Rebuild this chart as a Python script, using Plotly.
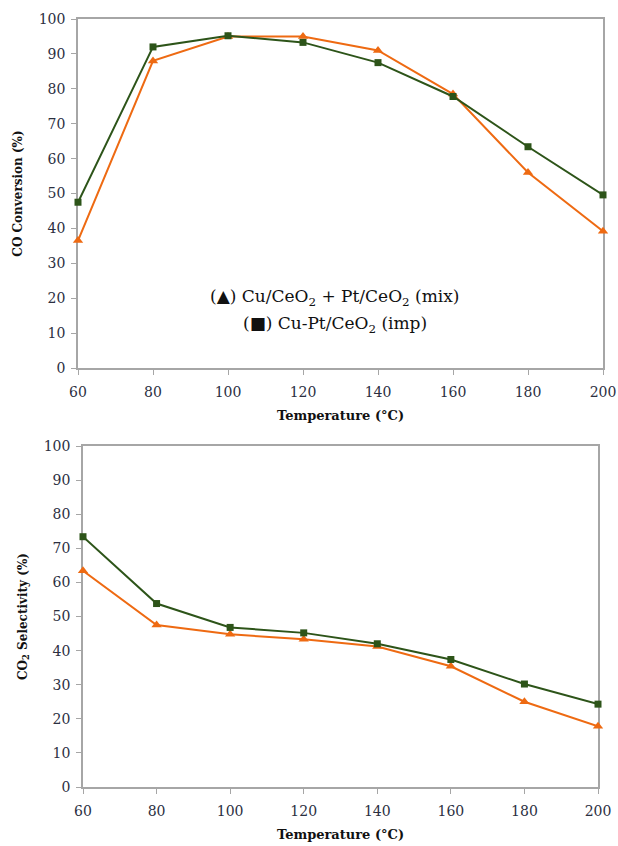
import plotly.graph_objects as go

temps = [60, 80, 100, 120, 140, 160, 180, 200]
conv_mix = [36.5, 88.0, 95.0, 95.0, 91.0, 78.5, 56.0, 39.2]
conv_imp = [47.5, 92.0, 95.2, 93.3, 87.5, 77.8, 63.4, 49.6]
sel_mix = [63.4, 47.5, 44.8, 43.3, 41.2, 35.4, 25.0, 17.8]
sel_imp = [73.4, 53.8, 46.8, 45.2, 42.0, 37.4, 30.2, 24.3]
y_ticks = [0, 10, 20, 30, 40, 50, 60, 70, 80, 90, 100]
x_ticks = [60, 80, 100, 120, 140, 160, 180, 200]

ORANGE = "#EE6A12"
GREEN = "#2D5419"
AXIS = "#A6A6A6"
TICKFONT = dict(family="DejaVu Serif", size=14, color="#2b2f3f")
XTITLEFONT = dict(family="DejaVu Serif", size=13, color="#111111")
YTITLEFONT = dict(family="DejaVu Serif", size=12, color="#111111")

W, H = 618, 846
fig = go.Figure()

def add_pair(xa, ya, mix, imp):
    fig.add_trace(go.Scatter(x=temps, y=mix, mode="lines+markers", xaxis=xa, yaxis=ya,
                             line=dict(color=ORANGE, width=2), cliponaxis=False,
                             marker=dict(symbol="triangle-up", size=9, color=ORANGE),
                             showlegend=False, hoverinfo="skip"))
    fig.add_trace(go.Scatter(x=temps, y=imp, mode="lines+markers", xaxis=xa, yaxis=ya,
                             line=dict(color=GREEN, width=2), cliponaxis=False,
                             marker=dict(symbol="square", size=7, color=GREEN),
                             showlegend=False, hoverinfo="skip"))

add_pair("x", "y", conv_mix, conv_imp)
add_pair("x2", "y2", sel_mix, sel_imp)

def xaxis(domain, anchor):
    return dict(domain=domain, anchor=anchor, range=[60, 200], tickvals=x_ticks,
                showline=True, linecolor=AXIS, linewidth=1.5, mirror=True,
                ticks="outside", ticklen=5, tickcolor=AXIS, showgrid=False,
                zeroline=False, tickfont=TICKFONT, automargin=False,
                ticklabelstandoff=5, layer="below traces",
                title=dict(text="<b>Temperature (°C)</b>", font=XTITLEFONT, standoff=12))

def yaxis(domain, anchor, title):
    return dict(domain=domain, anchor=anchor, range=[0, 100], tickvals=y_ticks,
                showline=True, linecolor=AXIS, linewidth=1.5, mirror=True,
                ticks="outside", ticklen=5, tickcolor=AXIS, showgrid=False,
                zeroline=False, tickfont=TICKFONT, automargin=False,
                ticklabelstandoff=3, layer="below traces",
                title=dict(text=title, font=YTITLEFONT, standoff=14))

fig.update_layout(
    width=W, height=H,
    margin=dict(l=0, r=0, t=0, b=0),
    paper_bgcolor="white", plot_bgcolor="white",
    xaxis=xaxis([78 / W, 603 / W], "y"),
    yaxis=yaxis([1 - 368 / H, 1 - 19 / H], "x", "<b>CO Conversion (%)</b>"),
    xaxis2=xaxis([83 / W, 598 / W], "y2"),
    yaxis2=yaxis([1 - 787 / H, 1 - 446 / H], "x2", "<b>CO<sub>2</sub> Selectivity (%)</b>"),
    annotations=[
        dict(text="(▲) Cu/CeO<sub>2</sub> + Pt/CeO<sub>2</sub> (mix)", x=334 / W, y=1 - 298 / H,
             xref="paper", yref="paper", showarrow=False,
             font=dict(family="DejaVu Serif", size=17, color="#111111")),
        dict(text="(■) Cu-Pt/CeO<sub>2</sub> (imp)", x=335 / W, y=1 - 325 / H,
             xref="paper", yref="paper", showarrow=False,
             font=dict(family="DejaVu Serif", size=17, color="#111111")),
    ],
)

fig.write_html("out.html", config={"displayModeBar": False},
               post_script="document.body.style.margin='0px';document.body.style.overflow='hidden';")
